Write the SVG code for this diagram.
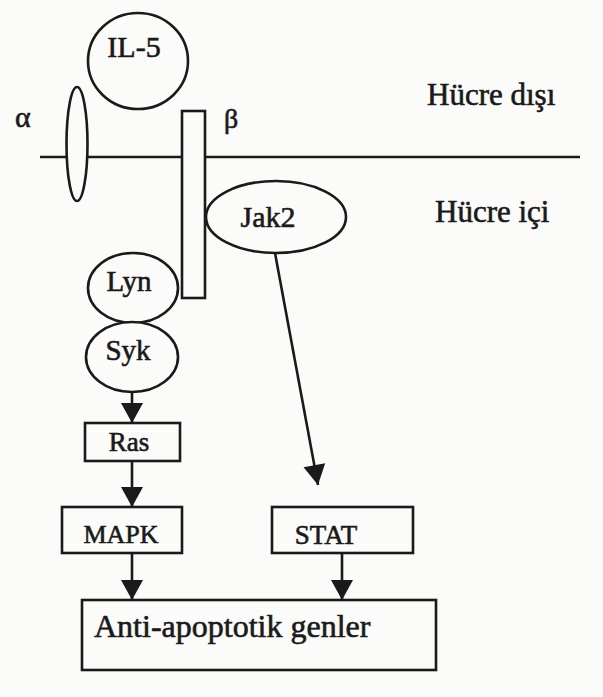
<svg xmlns="http://www.w3.org/2000/svg" width="603" height="697" viewBox="0 0 603 697">
  <style>
    .shape { fill: #fbfbf9; stroke: #1a1a1a; stroke-width: 2.6; }
    .line { fill: none; stroke: #1a1a1a; stroke-width: 2.6; }
    .lbl { font-family: "Liberation Serif", "Times New Roman", serif; fill: #1a1a1a; stroke: #1a1a1a; stroke-width: 0.6; }
  </style>
  <defs>
    <marker id="head" viewBox="0 0 20 24" refX="20" refY="12" markerWidth="22" markerHeight="24" markerUnits="userSpaceOnUse" orient="auto">
      <path d="M0,1 L20,12 L0,23 Z" fill="#1a1a1a"/>
    </marker>
  </defs>

  <rect x="0" y="0" width="603" height="697" fill="#fbfbf9"/>

  <!-- cell membrane -->
  <g id="membrane">
    <line class="line" x1="40" y1="157" x2="580" y2="157"/>
  </g>

  <!-- connectors -->
  <g id="connectors">
    <line class="line" x1="275" y1="253" x2="318" y2="485" marker-end="url(#head)"/>
    <line class="line" x1="132" y1="392" x2="132" y2="423" marker-end="url(#head)"/>
    <line class="line" x1="132" y1="461" x2="132" y2="507" marker-end="url(#head)"/>
    <line class="line" x1="132" y1="553" x2="132" y2="600" marker-end="url(#head)"/>
    <line class="line" x1="342" y1="553" x2="342" y2="600" marker-end="url(#head)"/>
  </g>

  <g id="il5">
    <ellipse class="shape" cx="138" cy="61" rx="50" ry="48"/>
    <text class="lbl" x="134" y="57" font-size="30" text-anchor="middle">IL-5</text>
  </g>

  <g id="alpha">
    <ellipse class="shape" cx="77" cy="144" rx="10.5" ry="57"/>
    <text class="lbl" x="15" y="127" font-size="30">α</text>
  </g>

  <g id="beta">
    <rect class="shape" x="182" y="111" width="23" height="187"/>
    <text class="lbl" x="224" y="128" font-size="28">β</text>
  </g>

  <g id="jak2">
    <ellipse class="shape" cx="276" cy="217" rx="70" ry="36"/>
    <text class="lbl" x="268" y="227" font-size="30" text-anchor="middle">Jak2</text>
  </g>

  <g id="lyn">
    <ellipse class="shape" cx="133" cy="288" rx="45" ry="35"/>
    <text class="lbl" x="129" y="291" font-size="29" text-anchor="middle">Lyn</text>
  </g>

  <g id="syk">
    <ellipse class="shape" cx="132" cy="357" rx="46" ry="35"/>
    <text class="lbl" x="128" y="360" font-size="29" text-anchor="middle">Syk</text>
  </g>

  <g id="ras">
    <rect class="shape" x="85" y="423" width="95" height="38"/>
    <text class="lbl" x="129" y="451" font-size="27" text-anchor="middle">Ras</text>
  </g>

  <g id="mapk">
    <rect class="shape" x="62" y="507" width="120" height="46"/>
    <text class="lbl" x="121" y="543" font-size="26" text-anchor="middle">MAPK</text>
  </g>

  <g id="stat">
    <rect class="shape" x="272" y="507" width="141" height="46"/>
    <text class="lbl" x="326" y="544" font-size="27" text-anchor="middle">STAT</text>
  </g>

  <g id="genes">
    <rect class="shape" x="82" y="600" width="354" height="70"/>
    <text class="lbl" x="94" y="637" font-size="32">Anti-apoptotik genler</text>
  </g>

  <g id="labels">
    <text class="lbl" x="427" y="105" font-size="31">Hücre dışı</text>
    <text class="lbl" x="435" y="222" font-size="31">Hücre içi</text>
  </g>
</svg>
